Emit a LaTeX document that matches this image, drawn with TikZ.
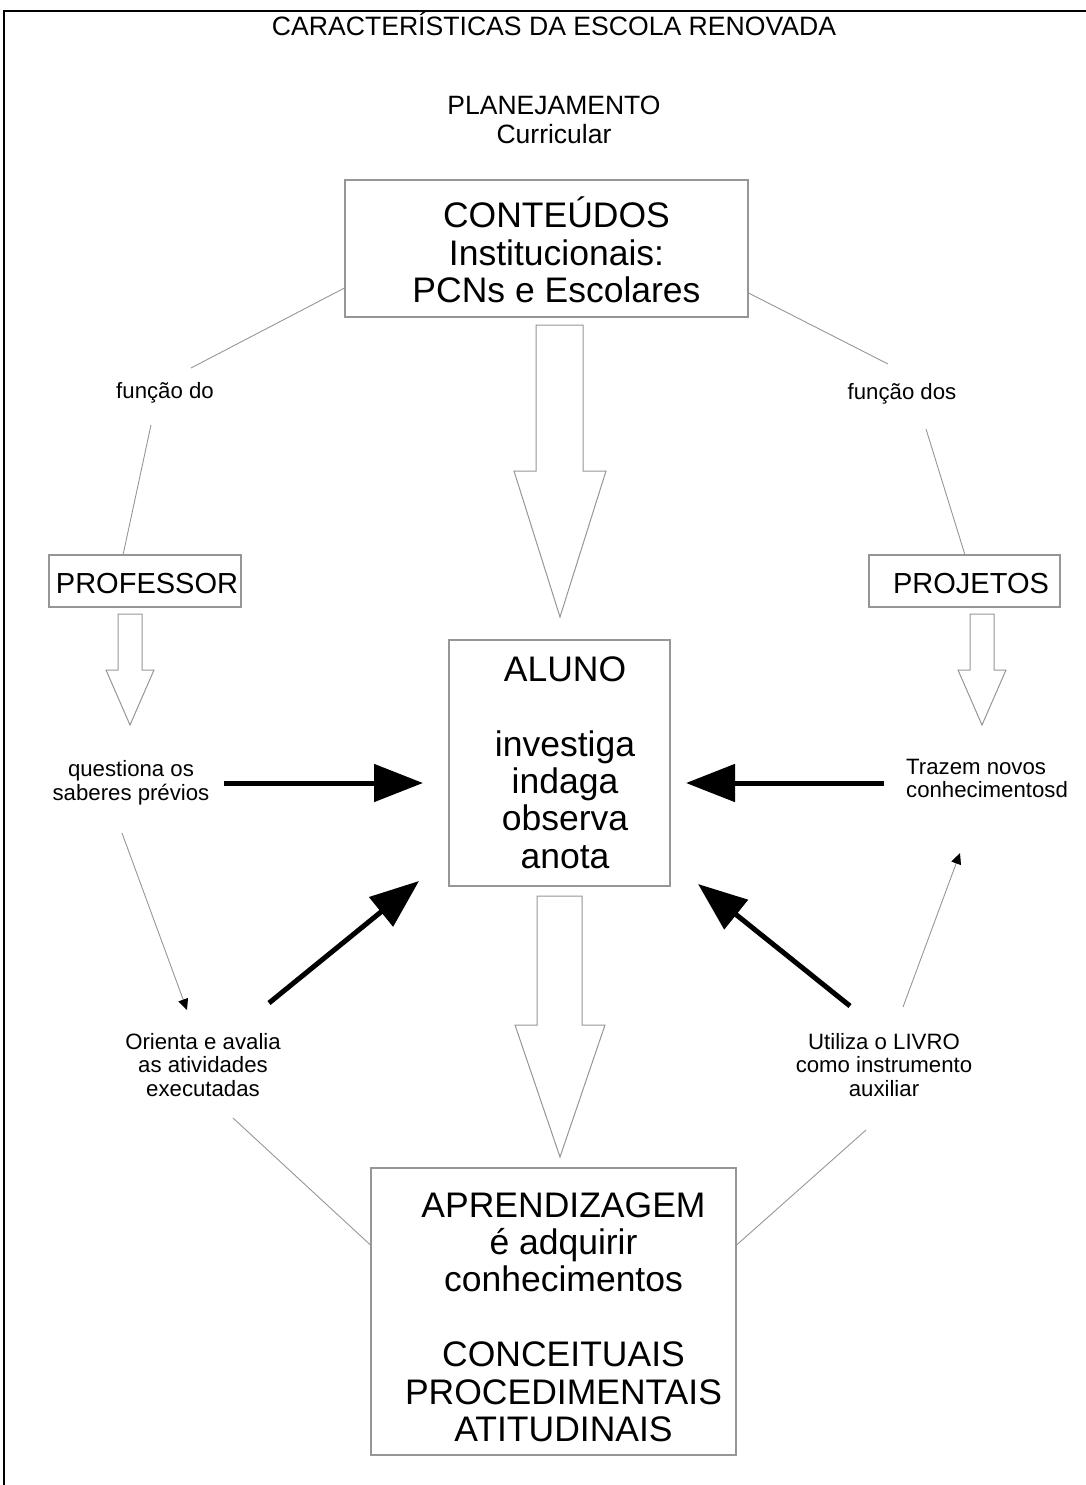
\documentclass[tikz,border=0pt]{standalone}
\usepackage{fontspec}
\setmainfont{Liberation Sans}
\usetikzlibrary{arrows.meta}
\definecolor{linegray}{RGB}{150,150,150}
\begin{document}
\begin{tikzpicture}[x=1pt,y=-1pt,
  box/.style={draw=linegray,line width=1.1pt,inner sep=0pt},
  txt/.style={inner sep=0pt,align=center},
  ftitle/.style={font=\fontsize{26.6}{29}\selectfont},
  fbig/.style={font=\fontsize{35.5}{37.4}\selectfont},
  fmed/.style={font=\fontsize{29}{32}\selectfont},
  fsmall/.style={font=\fontsize{22.2}{23.5}\selectfont},
  thin/.style={draw=linegray,line width=0.9pt},
  hollow/.style={draw=linegray,line width=1pt,fill=white,line join=miter},
  thick/.style={line width=5pt,-{Triangle[length=49pt,width=37pt]}},
  smallarrow/.style={draw=linegray,line width=0.9pt,-{Triangle[length=11pt,width=10pt,color=black]}}
]
\useasboundingbox (0,0) rectangle (1086,1485);
% frame
\draw[line width=2pt] (4,1485) -- (4,11) -- (1086,11);

% titles
\node[txt,ftitle,anchor=base] (title) at (554,35.3) {CARACTERÍSTICAS DA ESCOLA RENOVADA};
\node[txt,font=\fontsize{26.5}{29}\selectfont] (plan) at (554,119.5) {PLANEJAMENTO\\Curricular};

% boxes
\node[box,minimum width=403pt,minimum height=137pt] (cont) at (546.5,248.5) {};
\node[txt,fbig] (contt) at (556.5,250) {CONTEÚDOS\\Institucionais:\\PCNs e Escolares};

\node[box,minimum width=192pt,minimum height=52pt] (prof) at (145,581) {};
\node[txt,fmed] (proft) at (147,584) {PROFESSOR};

\node[box,minimum width=191pt,minimum height=52pt] (proj) at (964.5,581) {};
\node[txt,fmed] (projt) at (971,584) {PROJETOS};

\node[box,minimum width=221pt,minimum height=246pt] (aluno) at (559.5,763) {};
\node[txt,fbig] (alunot) at (565,762.5) {ALUNO\\[37.4pt]investiga\\indaga\\observa\\anota};

\node[box,minimum width=365pt,minimum height=287pt] (apr) at (553.5,1311.5) {};
\node[txt,fbig] (aprt) at (563.5,1317) {APRENDIZAGEM\\é adquirir\\conhecimentos\\[37.4pt]CONCEITUAIS\\PROCEDIMENTAIS\\ATITUDINAIS};

% small labels
\node[txt,fsmall] (fdo) at (165,393) {função do};
\node[txt,fsmall] (fdos) at (902,394) {função dos};
\node[txt,fsmall] (quest) at (131,783) {questiona os\\saberes prévios};
\node[txt,fsmall,align=left,anchor=west] (traz) at (906,778.5) {Trazem novos\\conhecimentosd};
\node[txt,fsmall] (orient) at (203,1065) {Orienta e avalia\\as atividades\\executadas};
\node[txt,fsmall] (util) at (884,1065) {Utiliza o LIVRO\\como instrumento\\auxiliar};

% connector end points
\coordinate (c1) at (cont.west |- 0,288);
\coordinate (c2) at (191,368);
\coordinate (c3) at (151,425);
\coordinate (c4) at (123,555);
\coordinate (c5) at (cont.east |- 0,293);
\coordinate (c6) at (888,364);
\coordinate (c7) at (926,429);
\coordinate (c8) at (965,555);
\coordinate (c9) at (233,1118);
\coordinate (c10) at (apr.west |- 0,1245);
\coordinate (c11) at (866,1130);
\coordinate (c12) at (apr.east |- 0,1245);

\draw[thin] (c1) -- (c2);
\draw[thin] (c3) -- (c4);
\draw[thin] (c5) -- (c6);
\draw[thin] (c7) -- (c8);
\draw[thin] (c9) -- (c10);
\draw[thin] (c11) -- (c12);

% hollow arrows
\coordinate (h1) at (559.5,325);
\draw[hollow] (h1) ++(-23.5,0) -- ++(47,0) -- ++(0,146) -- ++(23,0) -- (560,617) -- (514,471) -- ++(22,0) -- cycle;
\coordinate (h2) at (559.5,896);
\draw[hollow] (h2) ++(-22.5,0) -- ++(45,0) -- ++(0,129) -- ++(23,0) -- (560,1157) -- (515,1025) -- ++(22,0) -- cycle;
\coordinate (h3) at (130,614);
\draw[hollow] (h3) ++(-12,0) -- ++(24,0) -- ++(0,56) -- ++(12,0) -- (130,725) -- (106,670) -- ++(12,0) -- cycle;
\coordinate (h4) at (982,614);
\draw[hollow] (h4) ++(-12,0) -- ++(24,0) -- ++(0,56) -- ++(12,0) -- (982,725) -- (958,670) -- ++(12,0) -- cycle;

% thick arrows
\coordinate (t1s) at (224,783);
\coordinate (t1e) at (423,783);
\coordinate (t2s) at (884,783);
\coordinate (t2e) at (686,783);
\coordinate (t3s) at (269,1003);
\coordinate (t3e) at (419,881);
\coordinate (t4s) at (850,1006);
\coordinate (t4e) at (698,884);
\draw[thick] (t1s) -- (t1e);
\draw[thick] (t2s) -- (t2e);
\draw[thick] (t3s) -- (t3e);
\draw[thick] (t4s) -- (t4e);

% thin arrows
\coordinate (s1s) at (122,833);
\coordinate (s1e) at (187,1010);
\coordinate (s2s) at (903,1007);
\coordinate (s2e) at (960,853);
\draw[smallarrow] (s1s) -- (s1e);
\draw[smallarrow] (s2s) -- (s2e);
\end{tikzpicture}
\end{document}
